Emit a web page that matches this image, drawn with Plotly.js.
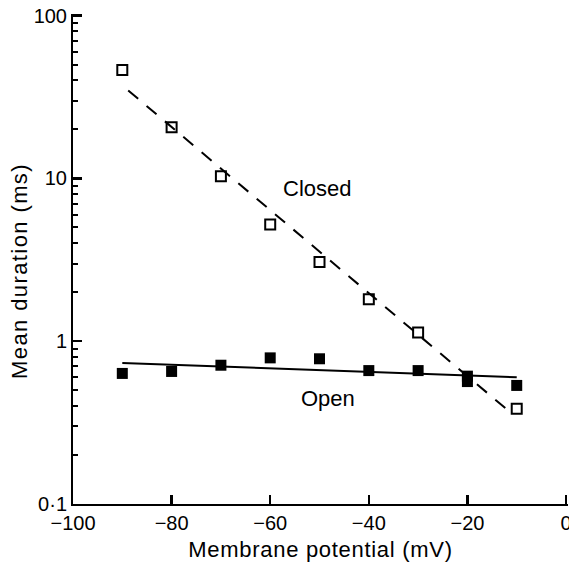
<!DOCTYPE html>
<html>
<head>
<meta charset="utf-8">
<script src="https://cdn.plot.ly/plotly-3.0.1.min.js"></script>
<style>
  html, body { margin: 0; padding: 0; background: #fff; }
  #chart { width: 569px; height: 564px; }
  .g-xtitle text { letter-spacing: 0.7px; }
  .annotation-text.ytitle { letter-spacing: 1.4px; }
</style>
</head>
<body>
<div id="chart"></div>
<script>
// Membrane potential (mV) at which each mean duration was measured
const potentials = [-90, -80, -70, -60, -50, -40, -30, -10];
const closedDurations = [46.4, 20.6, 10.3, 5.22, 3.07, 1.81, 1.13, 0.385];

const openPotentials = [-90, -80, -70, -60, -50, -40, -30, -20, -20, -10];
const openDurations = [0.634, 0.652, 0.712, 0.79, 0.78, 0.66, 0.66, 0.61, 0.565, 0.535];

// Fitted exponential lines (end points)
const closedFitX = [-88.8, -12];
const closedFitY = [34.7, 0.381];
const openFitX = [-90, -10];
const openFitY = [0.736, 0.601];

// Axis ticks
const xTickVals = [-100, -80, -60, -40, -20, 0];
const xTickText = ['\u2212100', '\u221280', '\u221260', '\u221240', '\u221220', '0'];
const yTickVals = [0.1, 1, 10, 100];
const yTickText = ['0\u00b71', '1', '10', '100'];
const yMinorVals = [0.2, 0.3, 0.4, 0.5, 0.6, 0.7, 0.8, 0.9,
                    2, 3, 4, 5, 6, 7, 8, 9,
                    20, 30, 40, 50, 60, 70, 80, 90];

const FONT = 'Liberation Sans, Arial, Helvetica, sans-serif';
// ranges run a hair past the end ticks so Plotly keeps the ticks at 0 and 100
const X_RANGE = [-100, 0.4];
const Y_RANGE = [-1, 2.01];

const traces = [
  {
    x: closedFitX, y: closedFitY, mode: 'lines', type: 'scatter',
    line: { color: '#000', width: 2, dash: '13px,11px' }, hoverinfo: 'skip'
  },
  {
    x: openFitX, y: openFitY, mode: 'lines', type: 'scatter',
    line: { color: '#000', width: 2 }, hoverinfo: 'skip'
  },
  {
    x: potentials, y: closedDurations, mode: 'markers', type: 'scatter',
    name: 'Closed',
    marker: { symbol: 'square-open', size: 10, color: '#000', line: { width: 2, color: '#000' } }
  },
  {
    x: openPotentials, y: openDurations, mode: 'markers', type: 'scatter',
    name: 'Open',
    marker: { symbol: 'square', size: 11, color: '#000' }
  },
  // invisible carrier for the minor-tick axis
  {
    x: [-100], y: [1], yaxis: 'y2', mode: 'markers', type: 'scatter',
    marker: { opacity: 0 }, hoverinfo: 'skip'
  }
];

const layout = {
  width: 569, height: 564,
  margin: { l: 73, r: 1, t: 14, b: 60 },
  paper_bgcolor: '#fff', plot_bgcolor: '#fff',
  showlegend: false,
  font: { family: FONT, size: 20, color: '#000' },
  xaxis: {
    range: X_RANGE,
    tickmode: 'array', tickvals: xTickVals, ticktext: xTickText,
    ticks: 'inside', ticklen: 9, tickwidth: 2.5, tickcolor: '#000',
    showline: true, linewidth: 2, linecolor: '#000',
    showgrid: false, zeroline: false,
    ticklabeloverflow: 'allow',
    tickfont: { family: FONT, size: 20, color: '#000' },
    title: { text: 'Membrane potential (mV)', font: { family: FONT, size: 22, color: '#000' }, standoff: 9 }
  },
  yaxis: {
    type: 'log',
    range: Y_RANGE,
    tickmode: 'array', tickvals: yTickVals, ticktext: yTickText,
    ticks: 'inside', ticklen: 9, tickwidth: 2.5, tickcolor: '#000',
    showline: true, linewidth: 2, linecolor: '#000',
    showgrid: false, zeroline: false,
    tickfont: { family: FONT, size: 20, color: '#000' }
  },
  // minor decade ticks (2..9) on the same log scale
  yaxis2: {
    type: 'log',
    range: Y_RANGE,
    overlaying: 'y', anchor: 'x', side: 'left',
    tickmode: 'array', tickvals: yMinorVals,
    ticks: 'inside', ticklen: 5, tickwidth: 2, tickcolor: '#000',
    showticklabels: false, showline: false, showgrid: false, zeroline: false
  },
  annotations: [
    {
      text: 'Mean duration (ms)', xref: 'paper', yref: 'paper',
      x: -0.1075, y: 0.4764, textangle: -90, showarrow: false,
      xanchor: 'center', yanchor: 'middle',
      font: { family: FONT, size: 22, color: '#000' }
    },
    {
      text: 'Closed', x: -50.6, y: Math.log10(8.68), showarrow: false,
      xanchor: 'center', yanchor: 'middle',
      font: { family: FONT, size: 22, color: '#000' }
    },
    {
      text: 'Open', x: -48.3, y: Math.log10(0.447), showarrow: false,
      xanchor: 'center', yanchor: 'middle',
      font: { family: FONT, size: 22, color: '#000' }
    }
  ]
};

Plotly.newPlot('chart', traces, layout, { staticPlot: true, displayModeBar: false }).then(() => {
  // tag the rotated annotation so its tracking can be styled
  document.querySelectorAll('.annotation-text').forEach(t => {
    if (t.textContent === 'Mean duration (ms)') t.classList.add('ytitle');
  });
});
</script>
</body>
</html>
